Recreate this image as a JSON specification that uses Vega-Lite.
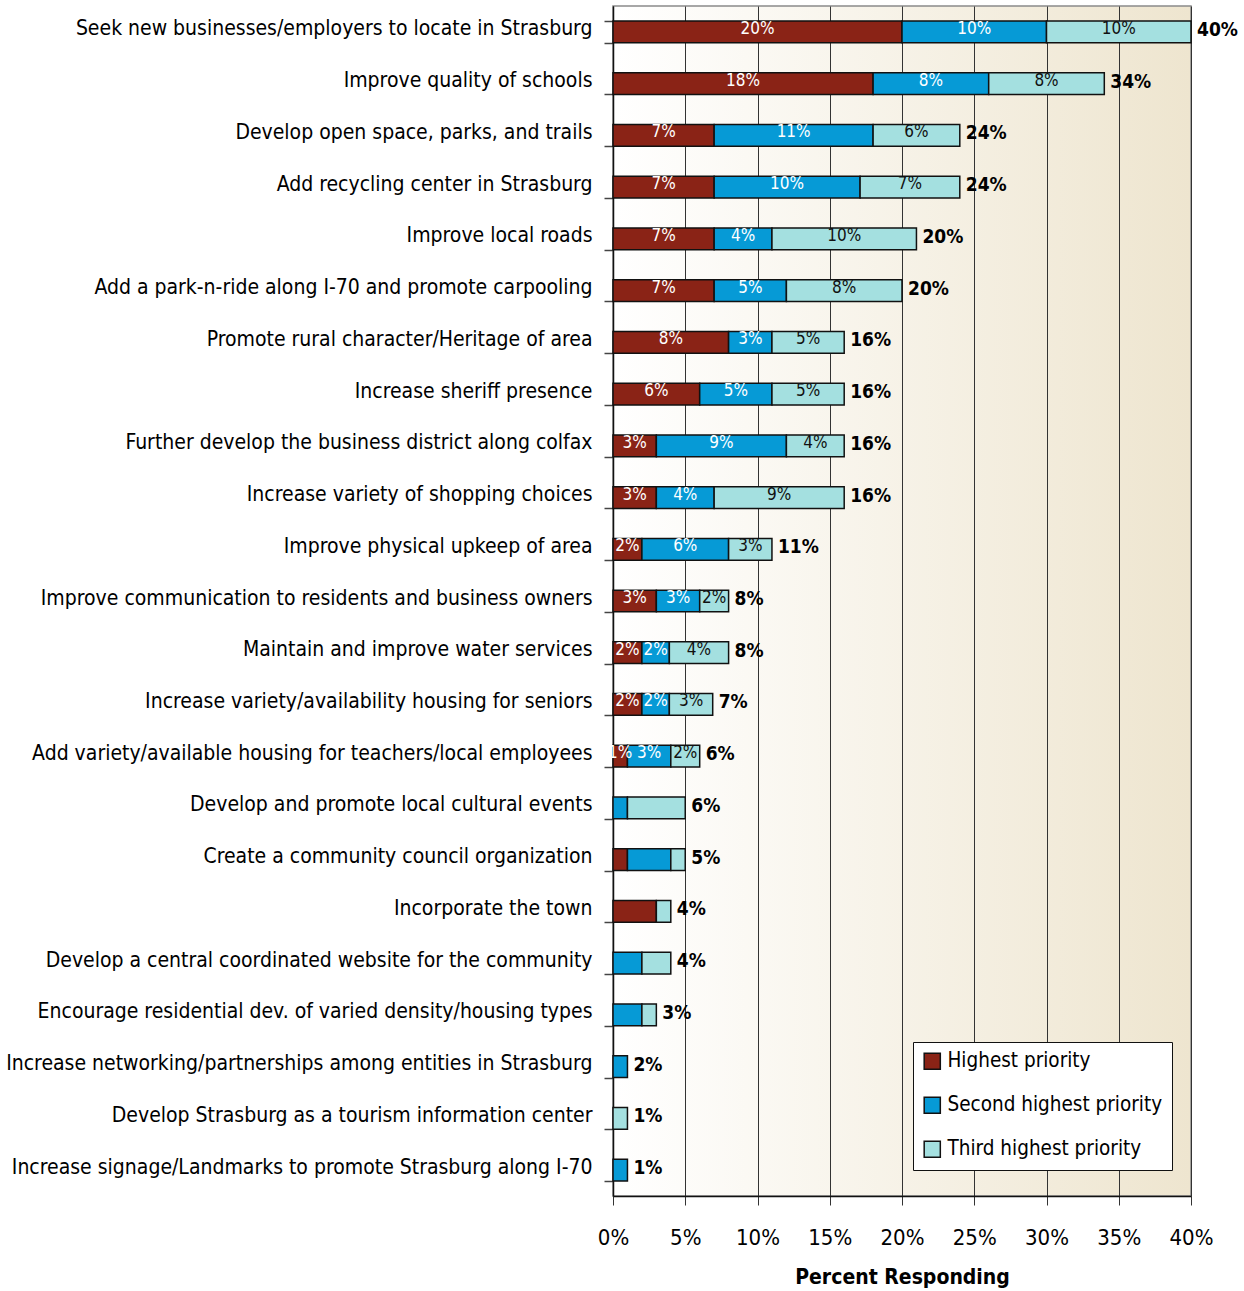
{
  "$schema": "https://vega.github.io/schema/vega-lite/v6.json",
  "autosize": "none",
  "width": 578,
  "height": 1190,
  "padding": {"left": 613, "top": 6, "right": 53, "bottom": 95},
  "background": "white",
  "datasets": {
    "segments": [
      {"item": "Seek new businesses/employers to locate in Strasburg", "priority": "Highest priority", "value": 20.0, "label": "20%"},
      {"item": "Seek new businesses/employers to locate in Strasburg", "priority": "Second highest priority", "value": 10.0, "label": "10%"},
      {"item": "Seek new businesses/employers to locate in Strasburg", "priority": "Third highest priority", "value": 10.0, "label": "10%"},
      {"item": "Improve quality of schools", "priority": "Highest priority", "value": 18.0, "label": "18%"},
      {"item": "Improve quality of schools", "priority": "Second highest priority", "value": 8.0, "label": "8%"},
      {"item": "Improve quality of schools", "priority": "Third highest priority", "value": 8.0, "label": "8%"},
      {"item": "Develop open space, parks, and trails", "priority": "Highest priority", "value": 7.0, "label": "7%"},
      {"item": "Develop open space, parks, and trails", "priority": "Second highest priority", "value": 11.0, "label": "11%"},
      {"item": "Develop open space, parks, and trails", "priority": "Third highest priority", "value": 6.0, "label": "6%"},
      {"item": "Add recycling center in Strasburg", "priority": "Highest priority", "value": 7.0, "label": "7%"},
      {"item": "Add recycling center in Strasburg", "priority": "Second highest priority", "value": 10.1, "label": "10%"},
      {"item": "Add recycling center in Strasburg", "priority": "Third highest priority", "value": 6.9, "label": "7%"},
      {"item": "Improve local roads", "priority": "Highest priority", "value": 7.0, "label": "7%"},
      {"item": "Improve local roads", "priority": "Second highest priority", "value": 4.0, "label": "4%"},
      {"item": "Improve local roads", "priority": "Third highest priority", "value": 10.0, "label": "10%"},
      {"item": "Add a park-n-ride along I-70 and promote carpooling", "priority": "Highest priority", "value": 7.0, "label": "7%"},
      {"item": "Add a park-n-ride along I-70 and promote carpooling", "priority": "Second highest priority", "value": 5.0, "label": "5%"},
      {"item": "Add a park-n-ride along I-70 and promote carpooling", "priority": "Third highest priority", "value": 8.0, "label": "8%"},
      {"item": "Promote rural character/Heritage of area", "priority": "Highest priority", "value": 8.0, "label": "8%"},
      {"item": "Promote rural character/Heritage of area", "priority": "Second highest priority", "value": 3.0, "label": "3%"},
      {"item": "Promote rural character/Heritage of area", "priority": "Third highest priority", "value": 5.0, "label": "5%"},
      {"item": "Increase sheriff presence", "priority": "Highest priority", "value": 6.0, "label": "6%"},
      {"item": "Increase sheriff presence", "priority": "Second highest priority", "value": 5.0, "label": "5%"},
      {"item": "Increase sheriff presence", "priority": "Third highest priority", "value": 5.0, "label": "5%"},
      {"item": "Further develop the business district along colfax", "priority": "Highest priority", "value": 3.0, "label": "3%"},
      {"item": "Further develop the business district along colfax", "priority": "Second highest priority", "value": 9.0, "label": "9%"},
      {"item": "Further develop the business district along colfax", "priority": "Third highest priority", "value": 4.0, "label": "4%"},
      {"item": "Increase variety of shopping choices", "priority": "Highest priority", "value": 3.0, "label": "3%"},
      {"item": "Increase variety of shopping choices", "priority": "Second highest priority", "value": 4.0, "label": "4%"},
      {"item": "Increase variety of shopping choices", "priority": "Third highest priority", "value": 9.0, "label": "9%"},
      {"item": "Improve physical upkeep of area", "priority": "Highest priority", "value": 2.0, "label": "2%"},
      {"item": "Improve physical upkeep of area", "priority": "Second highest priority", "value": 6.0, "label": "6%"},
      {"item": "Improve physical upkeep of area", "priority": "Third highest priority", "value": 3.0, "label": "3%"},
      {"item": "Improve communication to residents and business owners", "priority": "Highest priority", "value": 3.0, "label": "3%"},
      {"item": "Improve communication to residents and business owners", "priority": "Second highest priority", "value": 3.0, "label": "3%"},
      {"item": "Improve communication to residents and business owners", "priority": "Third highest priority", "value": 2.0, "label": "2%"},
      {"item": "Maintain and improve water services", "priority": "Highest priority", "value": 2.0, "label": "2%"},
      {"item": "Maintain and improve water services", "priority": "Second highest priority", "value": 1.9, "label": "2%"},
      {"item": "Maintain and improve water services", "priority": "Third highest priority", "value": 4.1, "label": "4%"},
      {"item": "Increase variety/availability housing for seniors", "priority": "Highest priority", "value": 2.0, "label": "2%"},
      {"item": "Increase variety/availability housing for seniors", "priority": "Second highest priority", "value": 1.9, "label": "2%"},
      {"item": "Increase variety/availability housing for seniors", "priority": "Third highest priority", "value": 3.0, "label": "3%"},
      {"item": "Add variety/available housing for teachers/local employees", "priority": "Highest priority", "value": 1.0, "label": "1%"},
      {"item": "Add variety/available housing for teachers/local employees", "priority": "Second highest priority", "value": 3.0, "label": "3%"},
      {"item": "Add variety/available housing for teachers/local employees", "priority": "Third highest priority", "value": 2.0, "label": "2%"},
      {"item": "Develop and promote local cultural events", "priority": "Second highest priority", "value": 1.0, "label": ""},
      {"item": "Develop and promote local cultural events", "priority": "Third highest priority", "value": 4.0, "label": ""},
      {"item": "Create a community council organization", "priority": "Highest priority", "value": 1.0, "label": ""},
      {"item": "Create a community council organization", "priority": "Second highest priority", "value": 3.0, "label": ""},
      {"item": "Create a community council organization", "priority": "Third highest priority", "value": 1.0, "label": ""},
      {"item": "Incorporate the town", "priority": "Highest priority", "value": 3.0, "label": ""},
      {"item": "Incorporate the town", "priority": "Third highest priority", "value": 1.0, "label": ""},
      {"item": "Develop a central coordinated website for the community", "priority": "Second highest priority", "value": 2.0, "label": ""},
      {"item": "Develop a central coordinated website for the community", "priority": "Third highest priority", "value": 2.0, "label": ""},
      {"item": "Encourage residential dev. of varied density/housing types", "priority": "Second highest priority", "value": 2.0, "label": ""},
      {"item": "Encourage residential dev. of varied density/housing types", "priority": "Third highest priority", "value": 1.0, "label": ""},
      {"item": "Increase networking/partnerships among entities in Strasburg", "priority": "Second highest priority", "value": 1.0, "label": ""},
      {"item": "Develop Strasburg as a tourism information center", "priority": "Third highest priority", "value": 1.0, "label": ""},
      {"item": "Increase signage/Landmarks to promote Strasburg along I-70", "priority": "Second highest priority", "value": 1.0, "label": ""}
    ],
    "totals": [
      {"item": "Seek new businesses/employers to locate in Strasburg", "total": 40.0, "label": "40%"},
      {"item": "Improve quality of schools", "total": 34.0, "label": "34%"},
      {"item": "Develop open space, parks, and trails", "total": 24.0, "label": "24%"},
      {"item": "Add recycling center in Strasburg", "total": 24.0, "label": "24%"},
      {"item": "Improve local roads", "total": 21.0, "label": "20%"},
      {"item": "Add a park-n-ride along I-70 and promote carpooling", "total": 20.0, "label": "20%"},
      {"item": "Promote rural character/Heritage of area", "total": 16.0, "label": "16%"},
      {"item": "Increase sheriff presence", "total": 16.0, "label": "16%"},
      {"item": "Further develop the business district along colfax", "total": 16.0, "label": "16%"},
      {"item": "Increase variety of shopping choices", "total": 16.0, "label": "16%"},
      {"item": "Improve physical upkeep of area", "total": 11.0, "label": "11%"},
      {"item": "Improve communication to residents and business owners", "total": 8.0, "label": "8%"},
      {"item": "Maintain and improve water services", "total": 8.0, "label": "8%"},
      {"item": "Increase variety/availability housing for seniors", "total": 6.9, "label": "7%"},
      {"item": "Add variety/available housing for teachers/local employees", "total": 6.0, "label": "6%"},
      {"item": "Develop and promote local cultural events", "total": 5.0, "label": "6%"},
      {"item": "Create a community council organization", "total": 5.0, "label": "5%"},
      {"item": "Incorporate the town", "total": 4.0, "label": "4%"},
      {"item": "Develop a central coordinated website for the community", "total": 4.0, "label": "4%"},
      {"item": "Encourage residential dev. of varied density/housing types", "total": 3.0, "label": "3%"},
      {"item": "Increase networking/partnerships among entities in Strasburg", "total": 1.0, "label": "2%"},
      {"item": "Develop Strasburg as a tourism information center", "total": 1.0, "label": "1%"},
      {"item": "Increase signage/Landmarks to promote Strasburg along I-70", "total": 1.0, "label": "1%"}
    ]
  },
  "config": {
    "font": "DejaVu Sans Condensed, sans-serif",
    "view": {
      "fill": {"gradient": "linear", "x1": 0, "y1": 0, "x2": 1, "y2": 0, "stops": [{"offset": 0, "color": "#ffffff"}, {"offset": 1, "color": "#eee5cf"}]},
      "stroke": "#8a8a8a",
      "strokeWidth": 1.5
    }
  },
  "encoding": {
    "y": {
      "field": "item",
      "type": "nominal",
      "sort": null,
      "scale": {"paddingInner": 0.58, "paddingOuter": 0.29},
      "axis": {
        "title": null,
        "tickBand": "extent",
        "tickSize": 9,
        "tickColor": "#444",
        "tickWidth": 1.5,
        "domainColor": "#111",
        "domainWidth": 1.5,
        "labelFontSize": 21,
        "labelColor": "#000",
        "labelPadding": 12,
        "labelOffset": -3,
        "labelLimit": 0
      }
    }
  },
  "layer": [
    {
      "data": {"name": "segments"},
      "mark": {"type": "bar", "stroke": "#111", "strokeWidth": 1.5},
      "encoding": {
        "x": {
          "field": "value",
          "type": "quantitative",
          "stack": "zero",
          "scale": {"domain": [0, 40], "nice": false},
          "axis": {
            "values": [0, 5, 10, 15, 20, 25, 30, 35, 40],
            "labelExpr": "datum.value + '%'",
            "labelOverlap": false,
            "labelFlush": false,
            "labelBound": false,
            "grid": true,
            "gridColor": "#333",
            "gridWidth": 1,
            "tickSize": 9,
            "tickColor": "#333",
            "domainColor": "#111",
            "domainWidth": 1.5,
            "labelFontSize": 22,
            "labelColor": "#000",
            "labelPadding": 22,
            "title": "Percent Responding",
            "titleFontSize": 21,
            "titleFontWeight": "bold",
            "titleColor": "#000",
            "titlePadding": 18
          }
        },
        "color": {
          "field": "priority",
          "type": "nominal",
          "scale": {
            "domain": ["Highest priority", "Second highest priority", "Third highest priority"],
            "range": ["#8a2316", "#069ad6", "#a4e0e0"]
          },
          "legend": {
            "title": null,
            "orient": "none",
            "legendX": 300,
            "legendY": 1036,
            "fillColor": "#ffffff",
            "strokeColor": "#111",
            "padding": 9,
            "symbolType": "square",
            "symbolSize": 260,
            "symbolStrokeColor": "#111",
            "symbolStrokeWidth": 1.5,
            "labelFontSize": 20.5,
            "labelColor": "#000",
            "labelLimit": 0,
            "labelOffset": 5,
            "rowPadding": 21
          }
        },
        "order": {"field": "priority", "sort": "ascending"}
      }
    },
    {
      "data": {"name": "segments"},
      "transform": [
        {"stack": "value", "groupby": ["item"], "sort": [{"field": "priority", "order": "ascending"}], "as": ["v0", "v1"]},
        {"calculate": "(datum.v0 + datum.v1) / 2", "as": "mid"}
      ],
      "mark": {"type": "text", "fontSize": 17, "baseline": "middle", "align": "center", "dy": -3},
      "encoding": {
        "x": {"field": "mid", "type": "quantitative"},
        "text": {"field": "label"},
        "color": {
          "condition": {"test": "datum.priority === 'Third highest priority'", "value": "#111"},
          "value": "#ffffff"
        }
      }
    },
    {
      "data": {"name": "totals"},
      "mark": {"type": "text", "fontSize": 19, "fontWeight": "bold", "align": "left", "baseline": "middle", "dx": 6, "dy": -2, "color": "#000"},
      "encoding": {
        "x": {"field": "total", "type": "quantitative"},
        "text": {"field": "label"}
      }
    }
  ]
}
